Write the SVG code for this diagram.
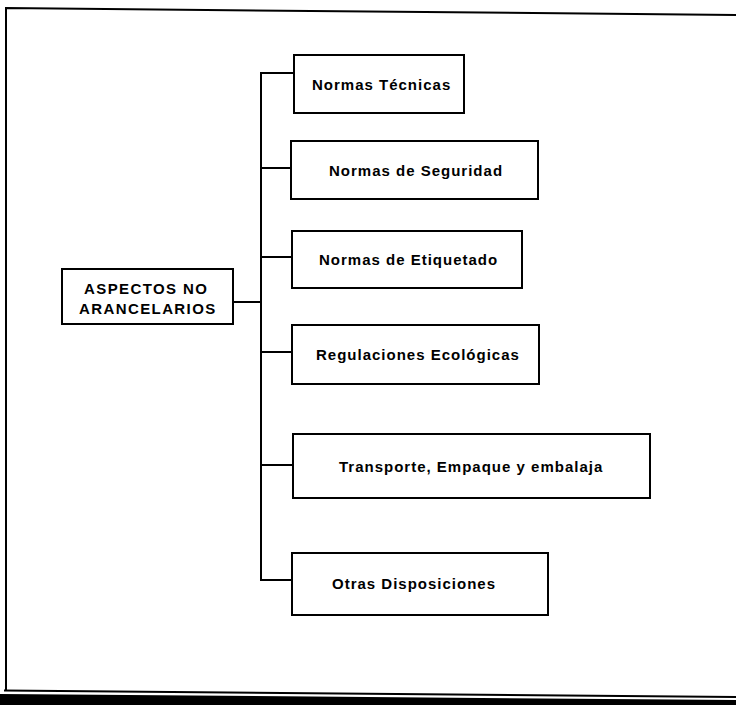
<svg xmlns="http://www.w3.org/2000/svg" width="736" height="705" viewBox="0 0 736 705">
<style>
.box{fill:#fff;stroke:#000;stroke-width:2}
.ln{fill:none;stroke:#000;stroke-width:2}
text{font-family:"Liberation Sans",Arial,sans-serif;font-size:15px;font-weight:bold;letter-spacing:1px;fill:#000}
#root text{letter-spacing:1.4px}
</style>
<rect width="736" height="705" fill="#fff"/>
<g id="frame">
<polyline class="ln" points="6,690 6,8 736,15"/>
<line class="ln" x1="4" y1="690.5" x2="736" y2="697"/>
<polygon points="0,694 736,700 736,705 0,705" fill="#000"/>
</g>
<g id="connectors">
<line class="ln" x1="261" y1="73" x2="261" y2="580"/>
<line class="ln" x1="233" y1="302" x2="261" y2="302"/>
<line class="ln" x1="260" y1="73" x2="294" y2="73"/>
<line class="ln" x1="261" y1="168" x2="291" y2="168"/>
<line class="ln" x1="261" y1="257" x2="292" y2="257"/>
<line class="ln" x1="261" y1="352" x2="292" y2="352"/>
<line class="ln" x1="261" y1="465" x2="293" y2="465"/>
<line class="ln" x1="260" y1="580" x2="292" y2="580"/>
</g>
<g id="root">
<rect class="box" x="62" y="269" width="171" height="55"/>
<text x="84" y="294">ASPECTOS NO</text>
<text x="79" y="314">ARANCELARIOS</text>
</g>
<g id="n1">
<rect class="box" x="294" y="55" width="170" height="58"/>
<text x="312" y="89.5">Normas Técnicas</text>
</g>
<g id="n2">
<rect class="box" x="291" y="141" width="247" height="58"/>
<text x="329" y="175.5">Normas de Seguridad</text>
</g>
<g id="n3">
<rect class="box" x="292" y="231" width="230" height="57"/>
<text x="319" y="264.5">Normas de Etiquetado</text>
</g>
<g id="n4">
<rect class="box" x="292" y="325" width="247" height="59"/>
<text x="316" y="359.5">Regulaciones Ecológicas</text>
</g>
<g id="n5">
<rect class="box" x="293" y="434" width="357" height="64"/>
<text x="339" y="471.5">Transporte, Empaque y embalaja</text>
</g>
<g id="n6">
<rect class="box" x="292" y="553" width="256" height="62"/>
<text x="332" y="589">Otras Disposiciones</text>
</g>
</svg>
